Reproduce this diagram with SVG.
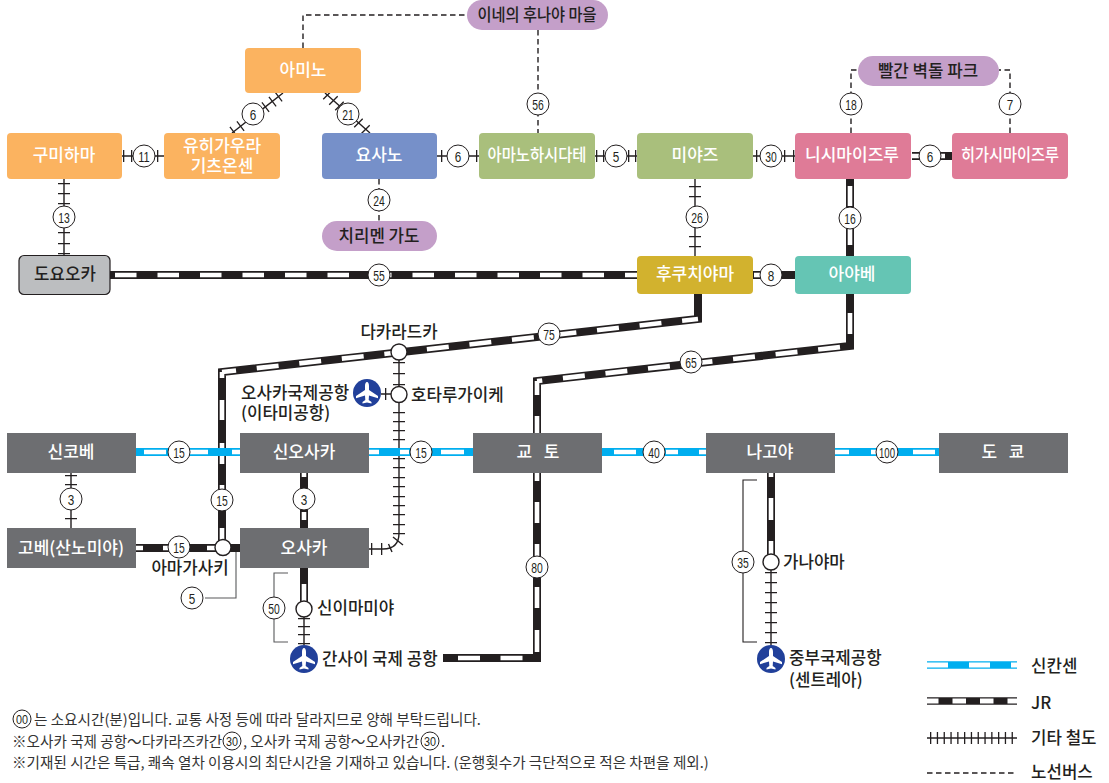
<svg xmlns="http://www.w3.org/2000/svg" width="1109" height="783" viewBox="0 0 1109 783">
<style>
text{font-family:"Noto Sans CJK KR","Noto Sans",sans-serif}
.box{stroke:none}
.wl{fill:#fff;font-size:17px;font-weight:500;text-anchor:middle}
.bl{fill:#231f20;font-size:16.8px;font-weight:500}
.blm{fill:#231f20;font-size:16.8px;font-weight:500;text-anchor:middle}
.note{fill:#333;font-size:14.6px}
.num{fill:#231f20;font-size:15px;text-anchor:middle;font-family:"Liberation Sans",sans-serif}
.nums{fill:#231f20;font-size:13px;text-anchor:middle;font-family:"Liberation Sans",sans-serif}
.badge{fill:#fff;stroke:#231f20;stroke-width:1}
.stop{fill:#fff;stroke:#231f20;stroke-width:1.4}
.jr,.jrw,.sk,.skw,.rail,.railt,.bus,.thin{fill:none}
.jr{stroke:#231f20;stroke-width:8}
.jrw{stroke:#fff;stroke-width:4.6}
.sk{stroke:#00aeef;stroke-width:8}
.skw{stroke:#fff;stroke-width:4.6}
.rail{stroke:#231f20;stroke-width:1.4}
.railt{stroke:#231f20;stroke-width:12}
.bus{stroke:#231f20;stroke-width:1.4;stroke-dasharray:5.500 3.500}
.thin{stroke:#58595b;stroke-width:1.1}
</style>
<defs>
<g id="plane"><circle r="14" fill="#21409a"/><path fill="#fff" d="M0-11C1.300-11 2-9 2-7V-3L11 3V5.200L2 2.500 1.700 7 4.500 9V10.500L0 9.500-4.500 10.500V9L-1.700 7-2 2.500-11 5.200V3L-2-3V-7C-2-9-1.300-11 0-11Z"/></g>
</defs>
<g id="connectors">
<!-- other railways -->
<g>
<path class="rail" d="M122 156H164M64 179V255M232 133L283 93M325 93L370 133M437 156H479M595 156H637M753 156H795M695 179V256M71 473V528M304 609V645M771 562V650M381 394H399M399 352V533Q399 549 383 549H369"/>
<g stroke-dasharray="1.300 100">
<path class="railt" d="M123 156H125M131 156H133M157 156H159"/>
<path class="railt" d="M64 183V185M64 193V195M64 203V205M64 232V234M64 243V245M64 253V255"/>
<path class="railt" d="M233 132L235 130.500M240 126.500L242 125M265 107.500L267 106M272 102L274 100.500M278 97L280 95.500"/>
<path class="railt" d="M327 94.500L329 96.500M333 100L335 102M339 105.500L341 107.500M358 122.500L360 124.500M365 129L367 131"/>
<path class="railt" d="M441 156H443M476 156H478"/>
<path class="railt" d="M596 156H598M603 156H605M628 156H630M635 156H637"/>
<path class="railt" d="M756 156H758M784 156H786M793 156H795"/>
<path class="railt" d="M695 186V188M695 196V198M695 236V238M695 246V248"/>
<path class="railt" d="M71 475V477M71 484V486M71 518V520"/>
<path class="railt" d="M304 618V620M304 626V628M304 634V636M304 643V645"/>
<path class="railt" d="M771 572V574M771 582V584M771 592V594M771 602V604M771 612V614M771 622V624M771 632V634M771 642V644"/>
<path class="railt" d="M385 394H387"/>
<path class="railt" d="M399 362V364M399 373V375M399 384V386M399 412V414M399 421V423M399 430V432M399 439V441M399 449V451M399 458V460M399 467V469M399 477V479M399 486V488M399 496V498M399 505V507M399 514V516M399 524V526M399 533V535"/>
<path class="railt" d="M371 549H373M381 549H383"/>
</g>
<path class="rail" d="M393 537L403 545M388.500 544L392 552"/>
</g>
<!-- bus routes -->
<g>
<path class="bus" d="M303 48V15H467"/>
<path class="bus" d="M538 30V133"/>
<path class="bus" d="M851 133V70H858"/>
<path class="bus" d="M1010 133V70H999"/>
<path class="bus" d="M379 179V221"/>
</g>
<!-- JR -->
<g>
<path class="jr" d="M110 275H637"/><path class="jrw" stroke-dasharray="21.500 21" stroke-dashoffset="-5" d="M110 275H637"/>
<path class="jr" d="M753 275H795"/><path class="jrw" d="M754 275H761"/>
<path class="jr" d="M850 179V256"/><path class="jrw" d="M850 186V206M850 228V245"/>
<path class="jr" d="M912 156H952"/><path class="jrw" d="M912 156H919M941 156H945"/>
<path class="jr" d="M850 294V346L537 381V433"/><path class="jrw" d="M850 313V334M537 381V395M537 416V433"/><path class="jrw" stroke-dasharray="22 20.800" d="M840 347.100L537 381"/>
<path class="jr" d="M698 294V319L222 372V548"/><path class="jrw" stroke-dasharray="22 20.800" stroke-dashoffset="6" d="M698 319L222 372"/><path class="jrw" d="M222 372V378M222 400V420M222 443V464M222 485V489M222 528V541"/>
<path class="jr" d="M136 548H240"/><path class="jrw" d="M136 548H143M163 548H168M207 548H217"/>
<path class="jr" d="M304 473V528"/><path class="jrw" d="M304 473V477M304 512V520"/>
<path class="jr" d="M304 568V604"/><path class="jrw" d="M304 584V602"/>
<path class="jr" d="M537 473V658H443"/><path class="jrw" d="M537 473V481M537 502V523M537 544V556M537 587V608M537 630V652M522.500 658H500.500M480 658H458"/>
<path class="jr" d="M771 473V556"/><path class="jrw" d="M771 473V477M771 498V520M771 541V554"/>
</g>
<!-- shinkansen -->
<g>
<path class="sk" d="M136 452H240M369 452H473M602 452H706M835 452H939"/>
<path class="skw" d="M144 452H166M190 452H208M232 452H240M369 452H379M400 452H409M441 452H464M614 452H636M666 452H678M699 452H706M835 452H849M871 452H876M913 452H935"/>
</g>
<!-- time brackets -->
<g>
<path class="thin" d="M205 598H236V552"/>
<path class="thin" d="M288 573H274V642H288"/>
<path class="thin" style="stroke:#231f20" d="M757 480H743V642H757"/>
</g>
<!-- legend lines -->
<g>
<path class="sk" style="stroke-width:7.500" d="M927 665H1017"/><path class="skw" style="stroke-width:5" stroke-dasharray="21 21" d="M927 665H1017"/>
<path class="jr" style="stroke-width:7.500" d="M927 701H1017"/><path class="jrw" style="stroke-width:5" stroke-dasharray="13.500 14" stroke-dashoffset="2" d="M927 701H1017"/>
<path class="rail" d="M927 738H1017"/><path class="railt" stroke-dasharray="1.300 5.500" d="M930 738H1018"/>
<path class="bus" d="M927 773H1017"/>
</g>
</g>
<g id="badges">
<g><circle class="badge" cx="144" cy="156" r="11"/><text class="num" textLength="11.500" lengthAdjust="spacingAndGlyphs" x="144" y="161.500">11</text></g>
<g><circle class="badge" cx="64" cy="217" r="11"/><text class="num" textLength="11.500" lengthAdjust="spacingAndGlyphs" x="64" y="222.500">13</text></g>
<g><circle class="badge" cx="253" cy="114" r="11"/><text class="num" textLength="6.500" lengthAdjust="spacingAndGlyphs" x="253" y="119.500">6</text></g>
<g><circle class="badge" cx="348" cy="114" r="11"/><text class="num" textLength="11.500" lengthAdjust="spacingAndGlyphs" x="348" y="119.500">21</text></g>
<g><circle class="badge" cx="458" cy="156" r="11"/><text class="num" textLength="6.500" lengthAdjust="spacingAndGlyphs" x="458" y="161.500">6</text></g>
<g><circle class="badge" cx="616" cy="156" r="11"/><text class="num" textLength="6.500" lengthAdjust="spacingAndGlyphs" x="616" y="161.500">5</text></g>
<g><circle class="badge" cx="771" cy="156" r="11"/><text class="num" textLength="11.500" lengthAdjust="spacingAndGlyphs" x="771" y="161.500">30</text></g>
<g><circle class="badge" cx="930" cy="156" r="11"/><text class="num" textLength="6.500" lengthAdjust="spacingAndGlyphs" x="930" y="161.500">6</text></g>
<g><circle class="badge" cx="538" cy="104" r="11"/><text class="num" textLength="11.500" lengthAdjust="spacingAndGlyphs" x="538" y="109.500">56</text></g>
<g><circle class="badge" cx="851" cy="104" r="11"/><text class="num" textLength="11.500" lengthAdjust="spacingAndGlyphs" x="851" y="109.500">18</text></g>
<g><circle class="badge" cx="1010" cy="104" r="11"/><text class="num" textLength="6.500" lengthAdjust="spacingAndGlyphs" x="1010" y="109.500">7</text></g>
<g><circle class="badge" cx="379" cy="200" r="11"/><text class="num" textLength="11.500" lengthAdjust="spacingAndGlyphs" x="379" y="205.500">24</text></g>
<g><circle class="badge" cx="697" cy="217" r="11"/><text class="num" textLength="11.500" lengthAdjust="spacingAndGlyphs" x="697" y="222.500">26</text></g>
<g><circle class="badge" cx="850" cy="218" r="11"/><text class="num" textLength="11.500" lengthAdjust="spacingAndGlyphs" x="850" y="223.500">16</text></g>
<g><circle class="badge" cx="379" cy="275" r="11"/><text class="num" textLength="11.500" lengthAdjust="spacingAndGlyphs" x="379" y="280.500">55</text></g>
<g><circle class="badge" cx="771" cy="275" r="11"/><text class="num" textLength="6.500" lengthAdjust="spacingAndGlyphs" x="771" y="280.500">8</text></g>
<g><circle class="badge" cx="549" cy="334" r="11"/><text class="num" textLength="11.500" lengthAdjust="spacingAndGlyphs" x="549" y="339.500">75</text></g>
<g><circle class="badge" cx="691" cy="362" r="11"/><text class="num" textLength="11.500" lengthAdjust="spacingAndGlyphs" x="691" y="367.500">65</text></g>
<g><circle class="badge" cx="179" cy="452" r="11"/><text class="num" textLength="11.500" lengthAdjust="spacingAndGlyphs" x="179" y="457.500">15</text></g>
<g><circle class="badge" cx="421" cy="452" r="11"/><text class="num" textLength="11.500" lengthAdjust="spacingAndGlyphs" x="421" y="457.500">15</text></g>
<g><circle class="badge" cx="654" cy="452" r="11"/><text class="num" textLength="11.500" lengthAdjust="spacingAndGlyphs" x="654" y="457.500">40</text></g>
<g><circle class="badge" cx="887" cy="452" r="11"/><text class="num" textLength="16" lengthAdjust="spacingAndGlyphs" x="887" y="457.500">100</text></g>
<g><circle class="badge" cx="71" cy="499" r="11"/><text class="num" textLength="6.500" lengthAdjust="spacingAndGlyphs" x="71" y="504.500">3</text></g>
<g><circle class="badge" cx="222" cy="500" r="11"/><text class="num" textLength="11.500" lengthAdjust="spacingAndGlyphs" x="222" y="505.500">15</text></g>
<g><circle class="badge" cx="304" cy="499" r="11"/><text class="num" textLength="6.500" lengthAdjust="spacingAndGlyphs" x="304" y="504.500">3</text></g>
<g><circle class="badge" cx="179" cy="547" r="11"/><text class="num" textLength="11.500" lengthAdjust="spacingAndGlyphs" x="179" y="552.500">15</text></g>
<g><circle class="badge" cx="192" cy="598" r="11"/><text class="num" textLength="6.500" lengthAdjust="spacingAndGlyphs" x="192" y="603.500">5</text></g>
<g><circle class="badge" cx="274" cy="608" r="11"/><text class="num" textLength="11.500" lengthAdjust="spacingAndGlyphs" x="274" y="613.500">50</text></g>
<g><circle class="badge" cx="537" cy="567" r="11"/><text class="num" textLength="11.500" lengthAdjust="spacingAndGlyphs" x="537" y="572.500">80</text></g>
<g><circle class="badge" cx="743" cy="562" r="11"/><text class="num" textLength="11.500" lengthAdjust="spacingAndGlyphs" x="743" y="567.500">35</text></g>
</g>
<g id="n-kumihama"><rect class="box" x="7" y="133" width="115" height="46" rx="4" fill="#fbb360"/><text class="wl" x="64" y="161">구미하마</text></g>
<g id="n-yuhigaura"><rect class="box" x="164" y="133" width="116" height="46" rx="4" fill="#fbb360"/><text class="wl"><tspan x="222" y="152">유히가우라</tspan><tspan x="222" y="172">기츠온센</tspan></text></g>
<g id="n-amino"><rect class="box" x="245" y="48" width="116" height="45" rx="4" fill="#fbb360"/><text class="wl" x="303" y="76">아미노</text></g>
<g id="n-yosano"><rect class="box" x="322" y="133" width="115" height="46" rx="4" fill="#7690c9"/><text class="wl" x="379" y="161">요사노</text></g>
<g id="n-amanohashidate"><rect class="box" x="479" y="133" width="116" height="46" rx="4" fill="#a9bf7c"/><text class="wl" textLength="99" lengthAdjust="spacingAndGlyphs" x="537" y="161">아마노하시다테</text></g>
<g id="n-miyazu"><rect class="box" x="637" y="133" width="116" height="46" rx="4" fill="#a9bf7c"/><text class="wl" x="695" y="161">미야즈</text></g>
<g id="n-nishimaizuru"><rect class="box" x="795" y="133" width="116" height="46" rx="4" fill="#df7b97"/><text class="wl" x="852" y="161">니시마이즈루</text></g>
<g id="n-higashimaizuru"><rect class="box" x="952" y="133" width="116" height="46" rx="4" fill="#df7b97"/><text class="wl" textLength="98" lengthAdjust="spacingAndGlyphs" x="1010" y="161">히가시마이즈루</text></g>
<g id="n-toyooka"><rect x="19" y="255.500" width="91" height="39" rx="5" fill="#bcbec0" stroke="#231f20" stroke-width="1.200"/><text class="blm" x="65" y="280">도요오카</text></g>
<g id="n-fukuchiyama"><rect class="box" x="637" y="256" width="116" height="38" rx="4" fill="#d2b22e"/><text class="wl" x="695" y="280">후쿠치야마</text></g>
<g id="n-ayabe"><rect class="box" x="795" y="256" width="116" height="38" rx="4" fill="#65c5b4"/><text class="wl" x="852" y="280">아야베</text></g>
<g id="n-chirimen"><rect class="box" x="322" y="221" width="115" height="30" rx="15" fill="#c49fc9"/><text class="blm" x="379" y="242">치리멘 가도</text></g>
<g id="n-ine"><rect class="box" x="467" y="0" width="141" height="30" rx="15" fill="#c49fc9"/><text class="blm" textLength="119" lengthAdjust="spacingAndGlyphs" x="537" y="21">이네의 후나야 마을</text></g>
<g id="n-akarenga"><rect class="box" x="858" y="56" width="141" height="30" rx="15" fill="#c49fc9"/><text class="blm" x="928" y="77">빨간 벽돌 파크</text></g>
<g id="n-shinkobe"><rect class="box" x="7" y="433" width="129" height="40" fill="#6d6e71"/><text class="wl" x="71" y="458">신코베</text></g>
<g id="n-shinosaka"><rect class="box" x="240" y="433" width="129" height="40" fill="#6d6e71"/><text class="wl" x="304" y="458">신오사카</text></g>
<g id="n-kyoto"><rect class="box" x="473" y="433" width="129" height="40" fill="#6d6e71"/><text class="wl" x="538" y="458" xml:space="preserve">교   토</text></g>
<g id="n-nagoya"><rect class="box" x="706" y="433" width="129" height="40" fill="#6d6e71"/><text class="wl" x="770" y="458">나고야</text></g>
<g id="n-tokyo"><rect class="box" x="939" y="433" width="129" height="40" fill="#6d6e71"/><text class="wl" x="1003" y="458" xml:space="preserve">도   쿄</text></g>
<g id="n-kobe"><rect class="box" x="7" y="528" width="129" height="40" fill="#6d6e71"/><text class="wl" x="71" y="554">고베(산노미야)</text></g>
<g id="n-osaka"><rect class="box" x="240" y="528" width="129" height="40" fill="#6d6e71"/><text class="wl" x="304" y="554">오사카</text></g>
<g id="n-takarazuka"><circle class="stop" cx="399" cy="352" r="8"/><text class="blm" x="399" y="338">다카라드카</text></g>
<g id="n-hotarugaike"><circle class="stop" cx="399" cy="394.500" r="8"/><text class="bl" x="411" y="401">호타루가이케</text></g>
<g id="n-itami"><use href="#plane" x="367" y="393"/><text class="bl"><tspan x="241" y="399">오사카국제공항</tspan><tspan x="241" y="419">(이타미공항)</tspan></text></g>
<g id="n-amagasaki"><circle class="stop" cx="223" cy="547.500" r="8"/><text class="blm" x="190" y="574">아마가사키</text></g>
<g id="n-shinimamiya"><circle class="stop" cx="304" cy="609" r="8"/><text class="bl" x="317" y="614">신이마미야</text></g>
<g id="n-kanayama"><circle class="stop" cx="771" cy="562" r="8"/><text class="bl" x="783" y="568">가나야마</text></g>
<g id="n-kansai"><use href="#plane" x="304" y="659"/><text class="bl" x="322" y="665">간사이 국제 공항</text></g>
<g id="n-centrair"><use href="#plane" x="771" y="659"/><text class="bl"><tspan x="789" y="664">중부국제공항</tspan><tspan x="789" y="686">(센트레아)</tspan></text></g>
<g id="legend">
<text class="bl" x="1031" y="672">신칸센</text>
<text class="bl" x="1031" y="709">JR</text>
<text class="bl" x="1031" y="744">기타 철도</text>
<text class="bl" x="1031" y="778">노선버스</text>
</g>
<g id="notes">
<circle class="badge" cx="22" cy="719" r="9"/><text class="nums" textLength="12" lengthAdjust="spacingAndGlyphs" x="22" y="723.500">00</text>
<text class="note" x="34" y="725">는 소요시간(분)입니다. 교통 사정 등에 따라 달라지므로 양해 부탁드립니다.</text>
<text class="note" x="12" y="747">※오사카 국제 공항～다카라즈카간</text>
<circle class="badge" cx="232" cy="741" r="9"/><text class="nums" textLength="12" lengthAdjust="spacingAndGlyphs" x="232" y="745.500">30</text>
<text class="note" x="243" y="747">, 오사카 국제 공항～오사카간</text>
<circle class="badge" cx="430" cy="741" r="9"/><text class="nums" textLength="12" lengthAdjust="spacingAndGlyphs" x="430" y="745.500">30</text>
<text class="note" x="441" y="747">.</text>
<text class="note" x="12" y="768">※기재된 시간은 특급, 쾌속 열차 이용시의 최단시간을 기재하고 있습니다. (운행횟수가 극단적으로 적은 차편을 제외.)</text>
</g>
</svg>
